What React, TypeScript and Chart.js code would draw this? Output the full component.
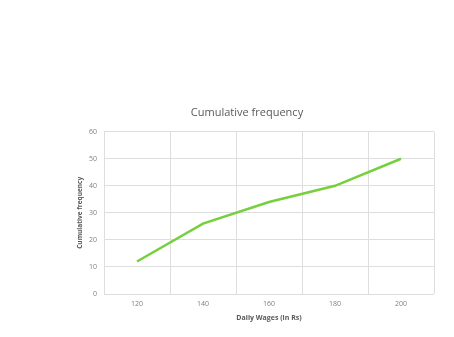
import React, { useEffect, useRef } from "react";
import { Chart, registerables } from "chart.js";

Chart.register(...registerables);

const categories = ["120", "140", "160", "180", "200"];
const cumulativeFrequency = [12, 26, 34, 40, 50];
const yMin = 0;
const yMax = 60;
const yStep = 10;
const chartTitle = "Cumulative frequency";
const xTitle = "Daily Wages (in Rs)";
const yTitle = "Cumulative frequency";

export default function App() {
  const ref = useRef<HTMLCanvasElement | null>(null);
  useEffect(() => {
    if (!ref.current) return;
    const font = "'Open Sans', 'Liberation Sans', sans-serif";
    const chart = new Chart(ref.current, {
      type: "line",
      data: {
        labels: categories,
        datasets: [
          {
            label: chartTitle,
            data: cumulativeFrequency,
            borderColor: "#76d03e",
            backgroundColor: "#76d03e",
            borderWidth: 2.5,
            pointRadius: 0,
            tension: 0,
            fill: false,
          },
        ],
      },
      options: {
        animation: false,
        responsive: false,
        maintainAspectRatio: false,
        layout: { padding: { left: 60, right: 20, top: 106, bottom: 10 } },
        plugins: {
          legend: { display: false },
          tooltip: { enabled: false },
          title: {
            display: true,
            text: chartTitle,
            color: "#595959",
            font: { family: font, size: 11, weight: "normal" },
            padding: { top: 0, bottom: 12.5 },
          },
        },
        scales: {
          x: {
            type: "category",
            offset: true,
            grid: { offset: true, color: "#dedede", drawTicks: false, lineWidth: 1 },
            border: { display: false },
            ticks: {
              color: "#7f7f7f",
              font: { family: font, size: 7 },
              padding: 6,
              maxRotation: 0,
            },
            title: {
              display: true,
              text: xTitle,
              color: "#595959",
              font: { family: font, size: 7, weight: "bold" },
              padding: { top: 0, bottom: 5 },
            },
            afterFit: (s: any) => {
              s.height = 33;
            },
          },
          y: {
            min: yMin,
            max: yMax,
            grid: { color: "#dedede", drawTicks: false, lineWidth: 1 },
            border: { display: false },
            ticks: {
              stepSize: yStep,
              color: "#7f7f7f",
              font: { family: font, size: 7 },
              padding: 7,
            },
            title: {
              display: true,
              text: yTitle,
              color: "#595959",
              font: { family: font, size: 6.5, weight: "bold" },
              padding: { top: 16, bottom: 0 },
            },
            afterFit: (s: any) => {
              s.width = 44;
            },
          },
        },
      },
    });
    return () => chart.destroy();
  }, []);
  return (
    <div style={{ position: "fixed", left: 0, top: 0, width: 454, height: 337, background: "#fff" }}>
      <canvas ref={ref} width={454} height={337} style={{ width: 454, height: 337 }} />
    </div>
  );
}
